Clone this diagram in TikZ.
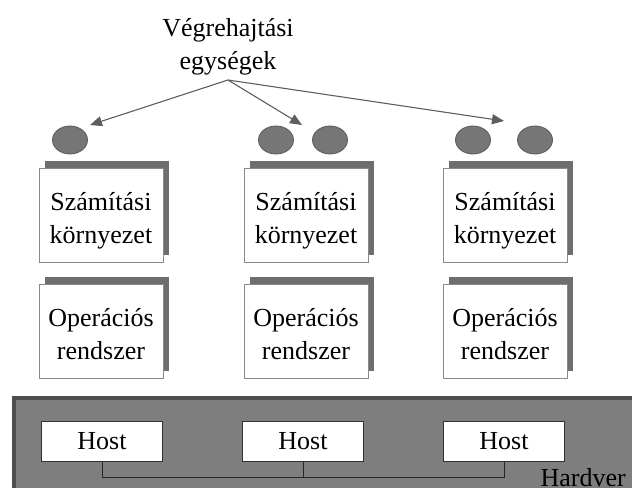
\documentclass[tikz,border=0pt]{standalone}
\usepackage{fontspec}
\setmainfont{Liberation Serif}
\usetikzlibrary{arrows.meta,shapes.geometric,shadows}
\definecolor{unitgray}{HTML}{767676}
\definecolor{unitedge}{HTML}{5A5A5A}
\definecolor{shadowgray}{HTML}{6E6E6E}
\definecolor{boxedge}{HTML}{8A8A8A}
\definecolor{bandgray}{HTML}{7E7E7E}
\definecolor{bandedge}{HTML}{4E4E4E}
\definecolor{arrowgray}{HTML}{5E5E5E}
\newcommand{\lnstrut}{\rule[-8pt]{0pt}{39pt}}
\newcommand{\lnstrutb}{\rule[-8pt]{0pt}{25pt}}
\tikzset{
  txt/.style={font=\fontsize{26}{33}\selectfont, inner sep=0pt, align=center},
  unit/.style={ellipse, fill=unitgray, draw=unitedge, line width=0.8pt, minimum width=35pt, minimum height=28pt, inner sep=0pt},
  layerbox/.style={txt, rectangle, fill=white, draw=boxedge, line width=0.8pt, minimum width=124pt, minimum height=94pt,
    general shadow={shadow xshift=6pt, shadow yshift=7pt, fill=shadowgray}},
  hostbox/.style={txt, rectangle, fill=white, draw=black!80, line width=0.6pt, minimum width=121pt, minimum height=40pt},
  pointer/.style={draw=arrowgray, line width=1.1pt, -{Triangle[length=12pt,width=10pt]}},
  bus/.style={draw=black!85, line width=1pt}
}
\begin{document}
\begin{tikzpicture}[x=1pt,y=-1pt]
\useasboundingbox (0,0) rectangle (632,492);
% Hardware band
\fill[bandgray] (12,396) rectangle (640,488);
\draw[bandedge, line width=4pt] (14,488) -- (14,398) -- (640,398);
% title
\node[txt] (title) at (228,47) {Végrehajtási\\egységek};
\coordinate (apex) at (228,80);
\coordinate (t1) at (90,125);
\coordinate (t2) at (302,125);
\coordinate (t3) at (504,121);
\draw[pointer] (apex) -- (t1);
\draw[pointer] (apex) -- (t2);
\draw[pointer] (apex) -- (t3);
% execution units
\node[unit] (u1) at (70,140) {};
\node[unit] (u2) at (276,140) {};
\node[unit] (u3) at (330,140) {};
\node[unit] (u4) at (473,140) {};
\node[unit] (u5) at (535,140) {};
% computing environment
\node[layerbox] (c1) at (101,215) {\lnstrut Számítási\\\lnstrutb környezet};
\node[layerbox] (c2) at (306,215) {\lnstrut Számítási\\\lnstrutb környezet};
\node[layerbox] (c3) at (505,215) {\lnstrut Számítási\\\lnstrutb környezet};
% operating systems
\node[layerbox] (o1) at (101,331) {\lnstrut Operációs\\\lnstrutb rendszer};
\node[layerbox] (o2) at (306,331) {\lnstrut Operációs\\\lnstrutb rendszer};
\node[layerbox] (o3) at (505,331) {\lnstrut Operációs\\\lnstrutb rendszer};
% hosts
\node[hostbox] (h1) at (102,441) {Host};
\node[hostbox] (h2) at (303,441) {Host};
\node[hostbox] (h3) at (504,441) {Host};
\coordinate (busline) at (0,477);
\draw[bus] (h1.south) -- (h1.south |- busline) -- (h3.south |- busline) -- (h3.south);
\draw[bus] (h2.south) -- (h2.south |- busline);
\node[txt, anchor=base east] (hw) at (626,486) {Hardver};
\end{tikzpicture}
\end{document}
